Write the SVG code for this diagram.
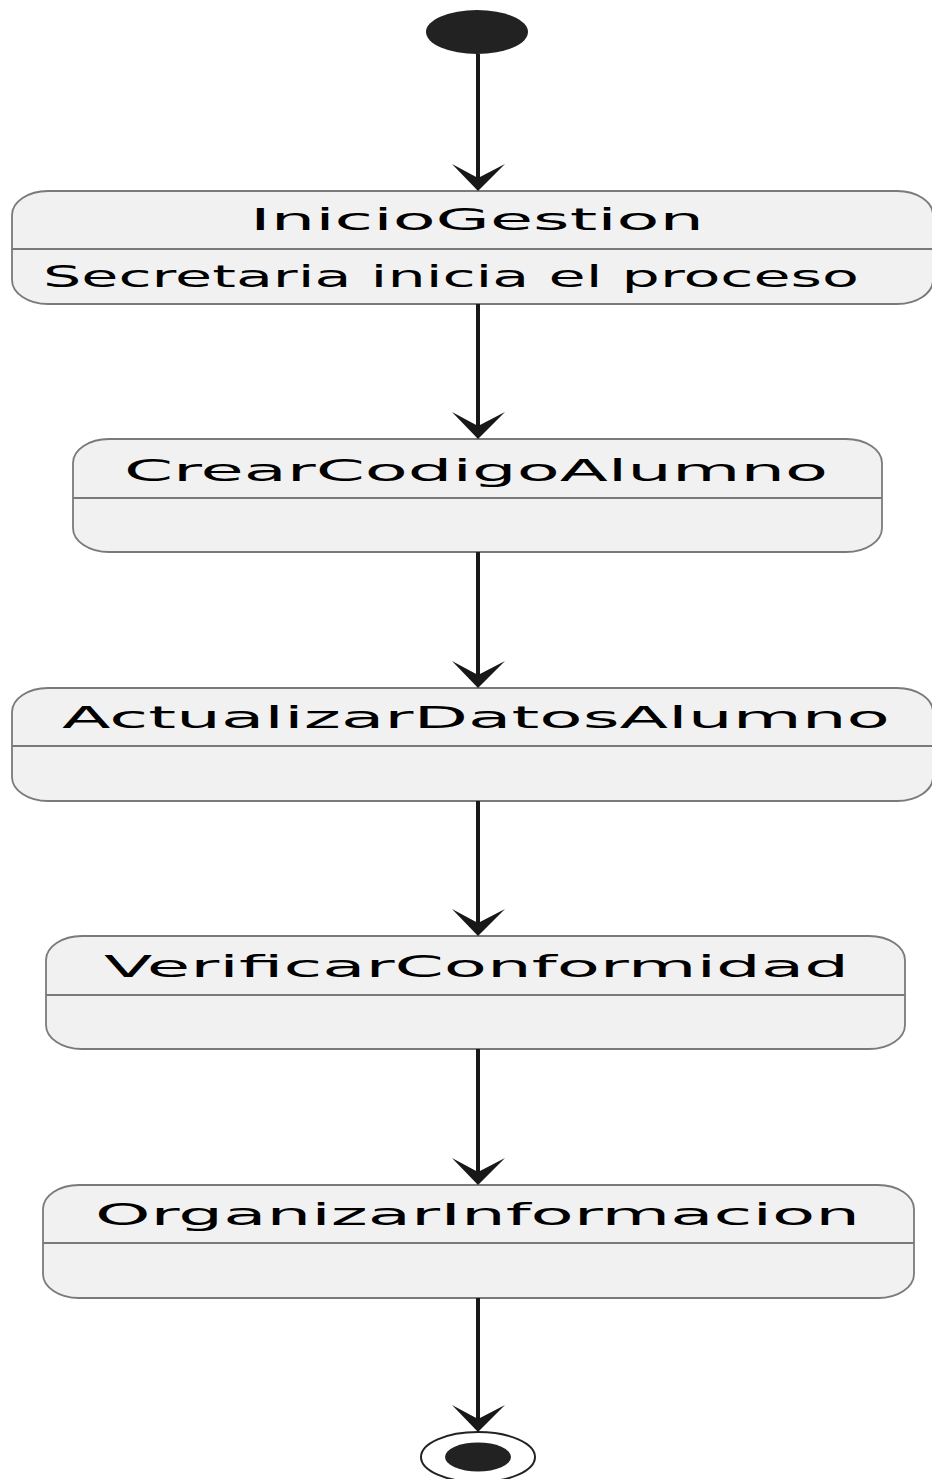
<svg xmlns="http://www.w3.org/2000/svg" width="932" height="1479" viewBox="0 0 932 1479">
<style>
.box{fill:#F1F1F1;stroke:#7a7a7a;stroke-width:1.8}
.div{stroke:#7a7a7a;stroke-width:1.8}
.t{font-family:"DejaVu Sans",sans-serif;font-size:30px;fill:#000}
.ln{stroke:#181818;stroke-width:4;fill:none}
.ah{fill:#181818}
</style>
<rect width="932" height="1479" fill="#fff"/>
<g id="start"><ellipse cx="477" cy="32" rx="51" ry="22" fill="#222"/></g>
<g id="InicioGestion">
<rect class="box" x="12" y="191" width="921" height="113" rx="36" ry="24"/>
<line class="div" x1="12" y1="249" x2="933" y2="249"/>
<text class="t" x="250" y="230" textLength="454" lengthAdjust="spacingAndGlyphs">InicioGestion</text>
<text class="t" x="43" y="287" textLength="816" lengthAdjust="spacingAndGlyphs">Secretaria inicia el proceso</text>
</g>
<g id="CrearCodigoAlumno">
<rect class="box" x="73" y="439" width="809" height="113" rx="36" ry="24"/>
<line class="div" x1="73" y1="498" x2="882" y2="498"/>
<text class="t" x="124" y="481" textLength="704" lengthAdjust="spacingAndGlyphs">CrearCodigoAlumno</text>
</g>
<g id="ActualizarDatosAlumno">
<rect class="box" x="12" y="688" width="921" height="113" rx="36" ry="24"/>
<line class="div" x1="12" y1="746" x2="933" y2="746"/>
<text class="t" x="62" y="728" textLength="828" lengthAdjust="spacingAndGlyphs">ActualizarDatosAlumno</text>
</g>
<g id="VerificarConformidad">
<rect class="box" x="46" y="936" width="859" height="113" rx="36" ry="24"/>
<line class="div" x1="46" y1="995" x2="905" y2="995"/>
<text class="t" x="104" y="977" textLength="745" lengthAdjust="spacingAndGlyphs">VerificarConformidad</text>
</g>
<g id="OrganizarInformacion">
<rect class="box" x="43" y="1185" width="871" height="113" rx="36" ry="24"/>
<line class="div" x1="43" y1="1243" x2="914" y2="1243"/>
<text class="t" x="95" y="1225" textLength="765" lengthAdjust="spacingAndGlyphs">OrganizarInformacion</text>
</g>
<g id="end">
<ellipse cx="478" cy="1457" rx="57" ry="25" fill="none" stroke="#222" stroke-width="2"/>
<ellipse cx="478" cy="1457" rx="33" ry="14.5" fill="#222"/>
</g>
<g id="connectors">
<path class="ln" d="M478 54V182M478 304V431M478 552V680M478 801V928M478 1049V1177M478 1298V1424"/>
<polygon class="ah" points="478,191 452,164 478,178 505,164"/>
<polygon class="ah" points="478,439 452,412 478,426 505,412"/>
<polygon class="ah" points="478,688 452,661 478,675 505,661"/>
<polygon class="ah" points="478,936 452,909 478,923 505,909"/>
<polygon class="ah" points="478,1185 452,1158 478,1172 505,1158"/>
<polygon class="ah" points="478,1432 452,1405 478,1419 505,1405"/>
</g>
</svg>
